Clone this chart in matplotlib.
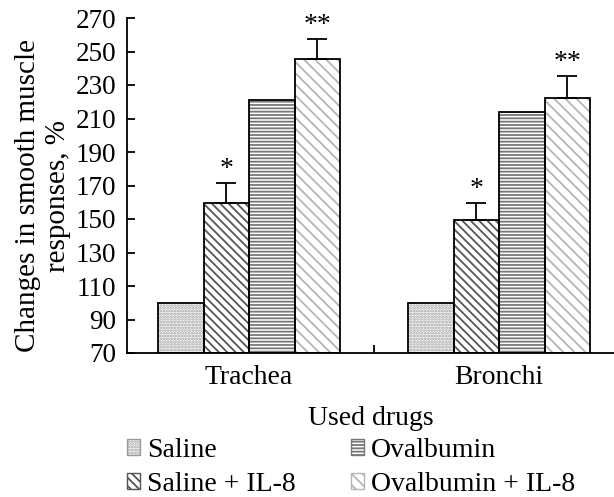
import numpy as np
import matplotlib
matplotlib.use("Agg")
import matplotlib.pyplot as plt

# data
organs = ["Trachea", "Bronchi"]
groups = ["Saline", "Saline + IL-8", "Ovalbumin", "Ovalbumin + IL-8"]
saline = [100, 100]
saline_il8 = [159.5, 149.5]
ovalbumin = [221, 214]
ovalbumin_il8 = [245.5, 222.5]
err_saline_il8 = [12, 10]
err_ovalbumin_il8 = [12, 13]
marks_saline_il8 = ["*", "*"]
marks_ovalbumin_il8 = ["**", "**"]

values = [saline, saline_il8, ovalbumin, ovalbumin_il8]
errors = [None, err_saline_il8, None, err_ovalbumin_il8]
marks = [None, marks_saline_il8, None, marks_ovalbumin_il8]
hatches = ["......", "\\\\\\\\", "-----", "\\\\\\"]
hatch_colors = ["#9a9a9a", "#555555", "#777777", "#b5b5b5"]

plt.rcParams["font.family"] = ["Liberation Serif", "DejaVu Serif"]
plt.rcParams["hatch.linewidth"] = 1.3
fs = 20

fig = plt.figure(figsize=(6.14, 4.97), dpi=100)
ax = fig.add_axes([127 / 614, 1 - 353 / 497, 1 - 127 / 614, (353 - 18) / 497])

x = np.arange(len(organs))
w = 0.182
offsets = np.array([-1.5, -0.5, 0.5, 1.5]) * w
handles = []
for i, g in enumerate(groups):
    pos = x + offsets[i]
    ax.bar(pos, np.array(values[i]) - 70, w, bottom=70, color="white",
           edgecolor=hatch_colors[i], hatch=hatches[i], linewidth=0, zorder=2)
    ax.bar(pos, np.array(values[i]) - 70, w, bottom=70, fill=False,
           edgecolor="black", linewidth=1.3, zorder=3)
    handles.append(plt.Rectangle((0, 0), 1, 1, facecolor="white",
                                 edgecolor=hatch_colors[i], hatch=hatches[i],
                                 linewidth=1.0))
    if errors[i] is not None:
        err = np.array(errors[i])
        ax.errorbar(pos, values[i], yerr=[np.zeros_like(err), err], fmt="none",
                    ecolor="black", elinewidth=1.3, capsize=7, capthick=1.3, zorder=4)
        for p, v, e, m in zip(pos, values[i], err, marks[i]):
            ax.text(p, v + e + 0.5, m, ha="center", va="bottom", fontsize=fs)

ax.set_ylim(70, 270)
ax.set_yticks(np.arange(70, 271, 20))
ax.set_xlim(-0.488, 1.46)
ax.set_xticks(x)
ax.set_xticklabels(organs, fontsize=fs)
ax.set_xticks([0.5], minor=True)
ax.tick_params(axis="x", which="major", length=0, pad=8.5)
ax.tick_params(axis="x", which="minor", direction="in", length=6, width=1.3)
ax.tick_params(axis="y", direction="in", length=6, width=1.3, labelsize=19.5, pad=8)
for s in ["top", "right"]:
    ax.spines[s].set_visible(False)
for s in ["left", "bottom"]:
    ax.spines[s].set_linewidth(1.3)

ax.set_ylabel("Changes in smooth muscle\nresponses, %", fontsize=21, labelpad=3,
              linespacing=1.2)
ax.yaxis.label.set_y(0.469)
ax.set_xlabel("Used drugs", fontsize=fs, labelpad=12)

fig.legend(handles, groups, ncol=2, loc="upper left", bbox_to_anchor=(127 / 614, 0.119),
           frameon=False, fontsize=fs, handlelength=0.47, handleheight=0.47,
           handletextpad=0.25, columnspacing=2.0, labelspacing=0.33,
           borderpad=0, borderaxespad=0)

fig.savefig("out.png", dpi=100)
